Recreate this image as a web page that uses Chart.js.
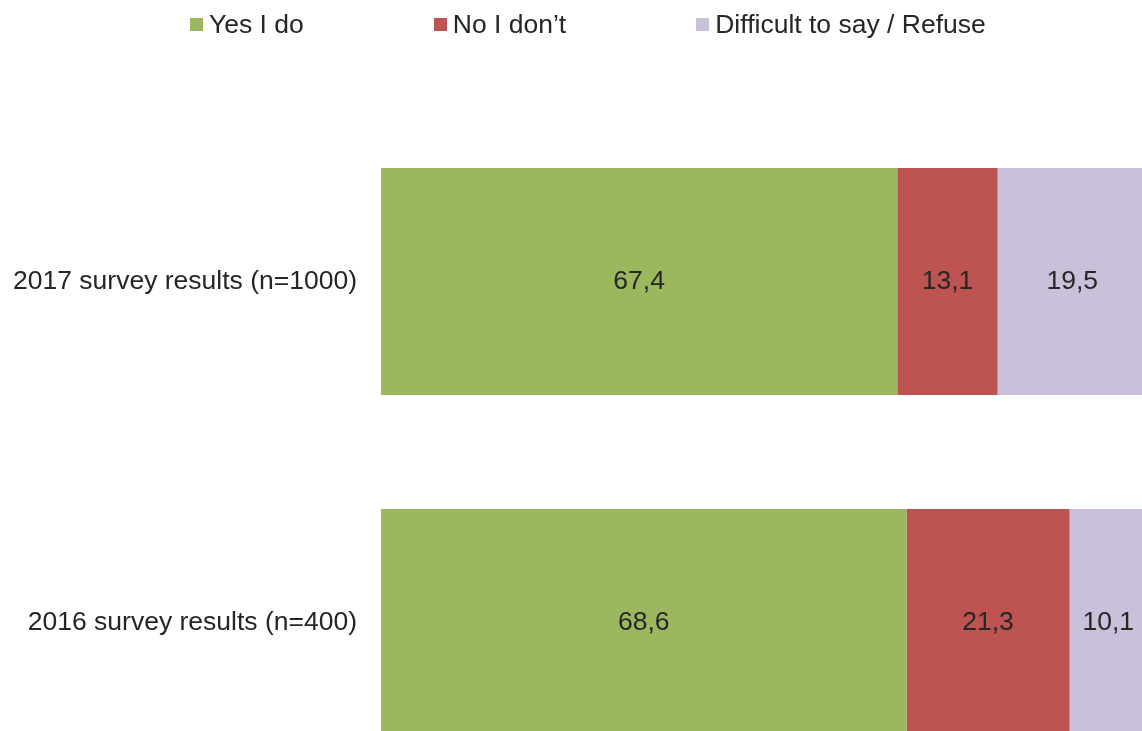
<!DOCTYPE html>
<html>
<head>
<meta charset="utf-8">
<script src="https://cdn.jsdelivr.net/npm/chart.js@4.4.1/dist/chart.umd.min.js"></script>
<style>
  html, body { margin: 0; padding: 0; background: #fff; }
  #wrap { position: relative; width: 1142px; height: 731px; overflow: hidden; }
  /* taller/wider than the window: the reference is cropped on the right and at the bottom */
  #box { position: absolute; left: 0; top: 0; width: 1147px; height: 833px; }
  #legend {
    position: absolute; left: 190px; top: 0; height: 48px;
    display: flex; align-items: center; gap: 130px;
    font-family: "Liberation Sans", Arial, sans-serif; font-size: 26.5px; color: #262626;
  }
  #legend .item { display: flex; align-items: center; white-space: nowrap; }
  #legend .sw { width: 13px; height: 13px; margin-right: 6px; }
</style>
</head>
<body>
<div id="wrap">
  <div id="box"><canvas id="bars"></canvas></div>
  <div id="legend"></div>
</div>
<script>
// categories (top to bottom)
const categories = ["2017 survey results (n=1000)", "2016 survey results (n=400)"];
// series, in %
const seriesNames = ["Yes I do", "No I don\u2019t", "Difficult to say / Refuse"];
const yesValues = [67.4, 68.6];
const noValues = [13.1, 21.3];
const difficultValues = [19.5, 10.1];
const colors = ["#9BB85F", "#BD5452", "#CAC0DA"];

const FONT = '"Liberation Sans", Arial, sans-serif';

// legend built as html, same order as the series
const legend = document.getElementById("legend");
seriesNames.forEach((name, i) => {
    const item = document.createElement("div");
    item.className = "item";
    const sw = document.createElement("span");
    sw.className = "sw";
    sw.style.background = colors[i];
    item.appendChild(sw);
    item.appendChild(document.createTextNode(name));
    legend.appendChild(item);
});

// writes the value in the middle of every bar segment
const valueLabels = {
    id: "valueLabels",
    afterDatasetsDraw(chart) {
        const ctx = chart.ctx;
        ctx.save();
        ctx.font = "26.5px " + FONT;
        ctx.fillStyle = "#262626";
        ctx.textAlign = "center";
        ctx.textBaseline = "middle";
        chart.data.datasets.forEach((ds, di) => {
            chart.getDatasetMeta(di).data.forEach((bar, i) => {
                const txt = ds.data[i].toFixed(1).replace(".", ",");
                ctx.fillText(txt, (bar.x + bar.base) / 2, bar.y);
            });
        });
        ctx.restore();
    }
};

const canvas = document.getElementById("bars");
new Chart(canvas, {
    type: "bar",
    data: {
        labels: categories,
        datasets: [
            { label: seriesNames[0], data: yesValues, backgroundColor: colors[0] },
            { label: seriesNames[1], data: noValues, backgroundColor: colors[1] },
            { label: seriesNames[2], data: difficultValues, backgroundColor: colors[2] }
        ]
    },
    options: {
        indexAxis: "y",
        responsive: true,
        maintainAspectRatio: false,
        animation: false,
        categoryPercentage: 0.666,
        barPercentage: 1,
        layout: { padding: { top: 111, left: 0, right: 0, bottom: 0 } },
        plugins: {
            legend: { display: false },
            tooltip: { enabled: false }
        },
        scales: {
            x: {
                stacked: true,
                display: false,
                min: 0,
                max: 100
            },
            y: {
                stacked: true,
                grid: { display: false, drawTicks: false },
                border: { display: false },
                ticks: {
                    padding: 24,
                    color: "#262626",
                    font: { family: FONT, size: 26.5 }
                },
                afterFit(scale) { scale.width = 381; }
            }
        }
    },
    plugins: [valueLabels]
});
</script>
</body>
</html>
